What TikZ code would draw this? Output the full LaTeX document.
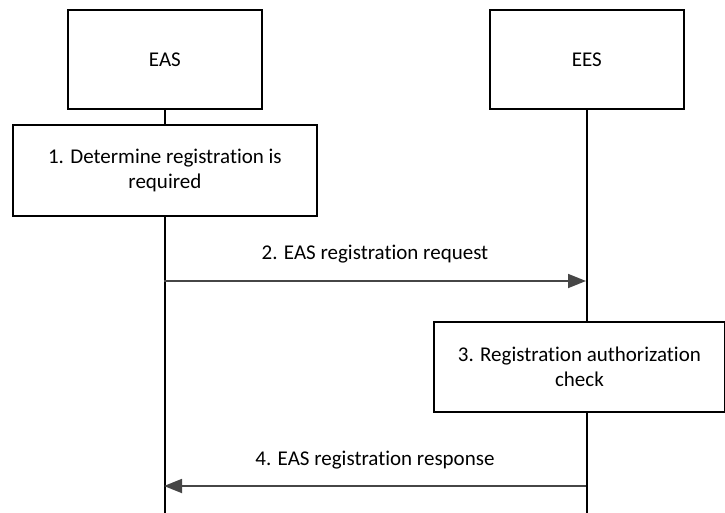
\documentclass[tikz,border=0pt]{standalone}
\usepackage{fontspec}
\setmainfont[Ligatures=NoCommon]{Carlito}
\usetikzlibrary{arrows.meta}
\definecolor{arrowgray}{RGB}{70,70,70}
\tikzset{
  txt/.style={font=\fontsize{21}{24.5}\selectfont},
  entity/.style={txt, draw=black, line width=1.8pt, minimum width=194pt, minimum height=99pt, anchor=north west, inner sep=0pt},
  stepbox/.style={txt, draw=black, line width=1.8pt, anchor=north west, inner sep=0pt, align=center},
  life/.style={draw=black, line width=1.8pt},
  msg/.style={draw=arrowgray, line width=1.8pt, -{Triangle[length=18pt,width=14pt]}},
  msglabel/.style={txt, inner sep=0pt, anchor=base}
}
\begin{document}
\begin{tikzpicture}[x=1pt,y=-1pt]
\useasboundingbox (0,0) rectangle (725,513);
\node[entity] (eas) at (67,9) {EAS};
\node[entity] (ees) at (489,9) {EES};
\node[stepbox, minimum width=304pt, minimum height=91pt] (s1) at (12,124) {1. Determine registration is\\required};
\node[stepbox, minimum width=291pt, minimum height=90pt] (s3) at (433,321) {3. Registration authorization\\check};
\coordinate (easend) at (164,513);
\coordinate (eesend) at (586,513);
\coordinate (a2s) at (164,281);
\coordinate (a2e) at (586,281);
\coordinate (a4s) at (586,486);
\coordinate (a4e) at (164,486);
\draw[life] (eas.south) -- (s1.north);
\draw[life] (s1.south) -- (s1.south |- easend);
\draw[life] (ees.south) -- (ees.south |- s3.north);
\draw[life] (ees.south |- s3.south) -- (ees.south |- eesend);
\draw[msg] (a2s) -- (a2e);
\draw[msg] (a4s) -- (a4e);
\node[msglabel] (l2) at (375,259) {2. EAS registration request};
\node[msglabel] (l4) at (375,465) {4. EAS registration response};
\end{tikzpicture}
\end{document}
